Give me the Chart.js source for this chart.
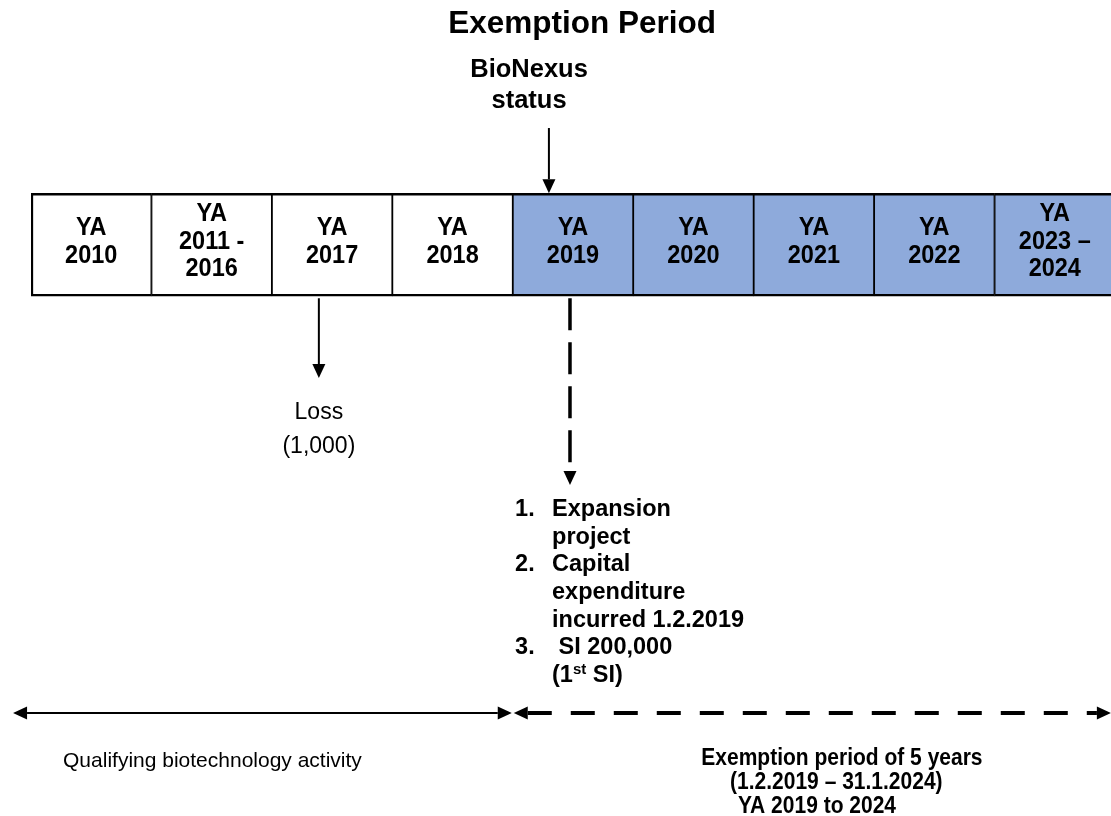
<!DOCTYPE html>
<html>
<head>
<meta charset="utf-8">
<script src="https://cdn.jsdelivr.net/npm/chart.js@4"></script>
<style>
  html, body { margin: 0; padding: 0; background: #fff; overflow: hidden; }
  #wrap { width: 1115px; height: 816px; }
</style>
</head>
<body>
<div id="wrap"><canvas id="timeline"></canvas></div>
<script>
// cells of the timeline, one bar each
const periods = [['YA', '2010'], ['YA', '2011 -', '2016'], ['YA', '2017'], ['YA', '2018'],
    ['YA', '2019'], ['YA', '2020'], ['YA', '2021'], ['YA', '2022'], ['YA', '2023 –', '2024']]
const exempt = [false, false, false, false, true, true, true, true, true]

const title = 'Exemption Period'
const statusText = ['BioNexus', 'status']
const lossText = ['Loss', '(1,000)']
const steps = [['Expansion', 'project'], ['Capital', 'expenditure', 'incurred 1.2.2019'], [' SI 200,000', '(1st SI)']]
const qualifyingText = 'Qualifying biotechnology activity'
const exemptionText = ['Exemption period of 5 years', '(1.2.2019 – 31.1.2024)', 'YA 2019 to 2024']

// where the notes sit: x in cell units (0 = first cell), y in row units (cells go 0..1)
const place = {
    title: {x: 4.075, y: 2.645},
    status: {x: 3.635, y: 2.198, arrowX: 3.80, arrowTop: 1.634},
    loss: {x: 1.89, arrowBottom: -0.794, textY: -1.13},
    steps: {x: 3.519, textX: 3.826, arrowX: 3.975, arrowBottom: -1.833, y: -2.07},
    period: {y: -4.048, from: -0.649, split: 3.5, to: 8.466},
    qualifying: {x: -0.234, y: -4.514},
    exemption: {x: [5.065, 5.304, 5.37], y: -4.49}
}

const FONT = "'Liberation Sans', Arial, sans-serif"

// text drawn a little taller than wide, like the original document
function text(ctx, str, x, y, sy)
{
    ctx.save()
    ctx.translate(x, y)
    ctx.scale(1, sy || 1)
    ctx.fillText(str, 0, 0)
    ctx.restore()
}

function arrow(ctx, x1, y1, x2, y2, o)
{
    const a = Math.atan2(y2 - y1, x2 - x1)
    const hl = o.head || 14, hw = o.headW || 6.5
    const cos = Math.cos(a), sin = Math.sin(a)
    ctx.save()
    ctx.strokeStyle = '#000'
    ctx.fillStyle = '#000'
    ctx.lineWidth = o.width || 2
    ctx.setLineDash(o.dash || [])
    ctx.beginPath()
    ctx.moveTo(o.both ? x1 + cos * hl : x1, o.both ? y1 + sin * hl : y1)
    ctx.lineTo(x2 - cos * hl, y2 - sin * hl)
    ctx.stroke()
    ctx.setLineDash([])
    const head = (x, y, c, s) => {
        ctx.beginPath()
        ctx.moveTo(x, y)
        ctx.lineTo(x - c * hl - s * hw, y - s * hl + c * hw)
        ctx.lineTo(x - c * hl + s * hw, y - s * hl - c * hw)
        ctx.closePath()
        ctx.fill()
    }
    head(x2, y2, cos, sin)
    if(o.both) head(x1, y1, -cos, -sin)
    ctx.restore()
}

const notes = {
    id: 'notes',
    afterDatasetsDraw(chart) {
        const ctx = chart.ctx
        const xs = chart.scales.x, ys = chart.scales.y
        const X = v => xs.getPixelForValue(v)
        const Y = v => ys.getPixelForValue(v)
        ctx.save()
        ctx.fillStyle = '#000'
        ctx.textBaseline = 'middle'

        // text in the cells
        ctx.textAlign = 'center'
        ctx.font = 'bold 23.5px ' + FONT
        chart.getDatasetMeta(0).data.forEach((bar, i) => {
            const lines = periods[i]
            const lh = 27.5
            const cy = (bar.y + bar.base) / 2 - 3 - (lines.length - 1) * lh / 2
            lines.forEach((t, k) => text(ctx, t, bar.x, cy + k * lh, 1.1))
        })

        // title and status
        ctx.font = 'bold 31.5px ' + FONT
        text(ctx, title, X(place.title.x), Y(place.title.y))
        ctx.font = 'bold 25.5px ' + FONT
        statusText.forEach((t, k) => text(ctx, t, X(place.status.x), Y(place.status.y) + k * 31))
        arrow(ctx, X(place.status.arrowX), Y(place.status.arrowTop), X(place.status.arrowX), Y(1), {width: 2})

        // loss
        arrow(ctx, X(place.loss.x), Y(0) + 2, X(place.loss.x), Y(place.loss.arrowBottom), {width: 2})
        ctx.font = '23px ' + FONT
        lossText.forEach((t, k) => text(ctx, t, X(place.loss.x), Y(place.loss.textY) + k * 34))

        // steps after BioNexus status
        arrow(ctx, X(place.steps.arrowX), Y(0) + 2, X(place.steps.arrowX), Y(place.steps.arrowBottom),
            {width: 3.5, dash: [32, 12]})
        ctx.textAlign = 'left'
        const big = 'bold 23.5px ' + FONT
        ctx.font = big
        let row = 0
        const y0 = Y(place.steps.y), lh = 27.7
        steps.forEach((item, n) => {
            text(ctx, (n + 1) + '.', X(place.steps.x), y0 + row * lh)
            item.forEach(t => {
                const y = y0 + row * lh
                let x = X(place.steps.textX)
                if(t.includes('1st')) {
                    const [a, b] = t.split('st')
                    text(ctx, a, x, y)
                    x += ctx.measureText(a).width
                    ctx.font = 'bold 15px ' + FONT
                    text(ctx, 'st', x, y - 6)
                    x += ctx.measureText('st').width
                    ctx.font = big
                    text(ctx, b, x, y)
                } else {
                    text(ctx, t, x, y)
                }
                row++
            })
        })

        // period arrows
        const p = place.period
        arrow(ctx, X(p.from), Y(p.y), X(p.split) - 1, Y(p.y), {width: 2, both: true})
        arrow(ctx, X(p.split) + 1, Y(p.y), X(p.to), Y(p.y), {width: 4, both: true, dash: [24, 19]})

        ctx.font = '21px ' + FONT
        text(ctx, qualifyingText, X(place.qualifying.x), Y(place.qualifying.y))
        ctx.font = 'bold 21px ' + FONT
        exemptionText.forEach((t, k) =>
            text(ctx, t, X(place.exemption.x[k]), Y(place.exemption.y) + k * 24, 1.15))
        ctx.restore()
    }
}

new Chart(document.getElementById('timeline'), {
    type: 'bar',
    data: {
        labels: periods.map(l => l.join(' ')),
        datasets: [{
            data: periods.map(() => [0, 1]),
            backgroundColor: exempt.map(e => e ? '#8EAADB' : '#FFFFFF'),
            borderColor: '#000',
            borderWidth: c => ({top: 2.5, bottom: 2.5, left: c.dataIndex === 0 ? 2.5 : 1.25, right: 1.25}),
            borderSkipped: false,
            barPercentage: 1,
            categoryPercentage: 1
        }]
    },
    options: {
        responsive: true,
        maintainAspectRatio: false,
        animation: false,
        layout: {padding: {left: 31, right: 0, top: 8, bottom: 5}},
        plugins: {legend: {display: false}, tooltip: {enabled: false}},
        scales: {
            x: {display: false},
            y: {display: false, min: -5, max: 2.8}
        }
    },
    plugins: [notes]
})
</script>
</body>
</html>
